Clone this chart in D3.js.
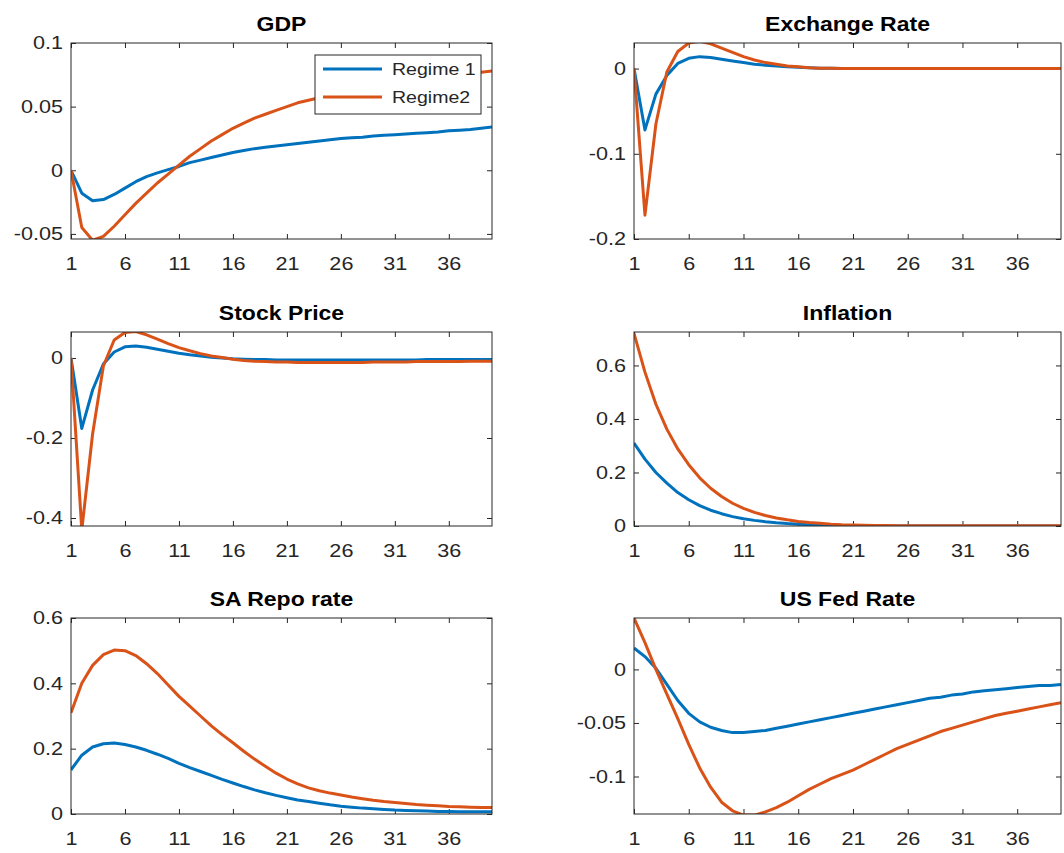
<!DOCTYPE html>
<html lang="en">
    <head>
        <meta charset="utf-8">
        <title>Impulse responses</title>
        <script type="text/javascript" src="https://cdn.jsdelivr.net/npm/d3@7"></script>
        <style>
            body { margin: 0; background: #fff; }
        </style>
    </head>
    <body>
        <script type="text/javascript">
            // Periods 1..40
            var periods = d3.range(1, 41);
            var xTicks = [1, 6, 11, 16, 21, 26, 31, 36];
            var seriesNames = ["Regime 1", "Regime2"];

            // GDP
            var gdpR1 = [0, -0.018, -0.024, -0.023, -0.019, -0.014, -0.009, -0.005, -0.002, 0.0005,
                         0.003, 0.006, 0.008, 0.010, 0.012, 0.014, 0.0155, 0.017, 0.018, 0.019,
                         0.020, 0.021, 0.022, 0.023, 0.024, 0.025, 0.0255, 0.026, 0.027, 0.0275,
                         0.028, 0.0285, 0.029, 0.0295, 0.030, 0.031, 0.0315, 0.032, 0.033, 0.034];
            var gdpR2 = [0, -0.045, -0.055, -0.052, -0.044, -0.035, -0.026, -0.018, -0.010, -0.003,
                         0.004, 0.011, 0.017, 0.023, 0.028, 0.033, 0.037, 0.041, 0.044, 0.047,
                         0.050, 0.053, 0.055, 0.057, 0.059, 0.061, 0.063, 0.065, 0.066, 0.068,
                         0.069, 0.070, 0.071, 0.072, 0.073, 0.074, 0.075, 0.076, 0.077, 0.078];

            // Exchange rate
            var fxR1 = [0, -0.072, -0.030, -0.008, 0.006, 0.012, 0.014, 0.013, 0.011, 0.009,
                        0.007, 0.005, 0.004, 0.003, 0.002, 0.0015, 0.001, 0.0005, 0.0003, 0.0002,
                        0.0001, 0, 0, 0, 0, 0, 0, 0, 0, 0,
                        0, 0, 0, 0, 0, 0, 0, 0, 0, 0];
            var fxR2 = [0, -0.172, -0.065, -0.004, 0.020, 0.030, 0.032, 0.029, 0.024, 0.019,
                        0.014, 0.010, 0.007, 0.005, 0.003, 0.002, 0.001, 0.0005, 0.0003, 0.0002,
                        0.0001, 0, 0, 0, 0, 0, 0, 0, 0, 0,
                        0, 0, 0, 0, 0, 0, 0, 0, 0, 0];

            // Stock price
            var stockR1 = [0, -0.176, -0.080, -0.015, 0.015, 0.028, 0.030, 0.027, 0.022, 0.017,
                           0.012, 0.008, 0.005, 0.002, 0.000, -0.002, -0.003, -0.004, -0.004, -0.005,
                           -0.005, -0.005, -0.005, -0.005, -0.005, -0.005, -0.005, -0.005, -0.005, -0.005,
                           -0.005, -0.005, -0.005, -0.004, -0.004, -0.004, -0.004, -0.004, -0.004, -0.004];
            var stockR2 = [0, -0.430, -0.190, -0.020, 0.045, 0.064, 0.066, 0.058, 0.047, 0.036,
                           0.026, 0.018, 0.011, 0.005, 0.001, -0.003, -0.006, -0.008, -0.009, -0.010,
                           -0.010, -0.011, -0.011, -0.011, -0.011, -0.011, -0.011, -0.011, -0.010, -0.010,
                           -0.010, -0.010, -0.009, -0.009, -0.009, -0.009, -0.009, -0.008, -0.008, -0.008];

            // Inflation
            var inflR1 = [0.310, 0.250, 0.200, 0.160, 0.125, 0.098, 0.076, 0.059, 0.046, 0.035,
                          0.027, 0.021, 0.016, 0.012, 0.009, 0.007, 0.005, 0.003, 0.002, 0.001,
                          0.0005, 0, 0, 0, 0, 0, 0, 0, 0, 0,
                          0, 0, 0, 0, 0, 0, 0, 0, 0, 0];
            var inflR2 = [0.720, 0.575, 0.455, 0.362, 0.288, 0.229, 0.180, 0.141, 0.110, 0.085,
                          0.066, 0.051, 0.039, 0.030, 0.023, 0.017, 0.013, 0.010, 0.007, 0.005,
                          0.004, 0.003, 0.002, 0.002, 0.001, 0.001, 0.001, 0.001, 0.001, 0.001,
                          0.001, 0.001, 0.001, 0.001, 0.001, 0.001, 0.001, 0.001, 0.001, 0.001];

            // SA repo rate
            var repoR1 = [0.135, 0.180, 0.205, 0.215, 0.217, 0.213, 0.205, 0.195, 0.183, 0.170,
                          0.155, 0.142, 0.130, 0.118, 0.106, 0.095, 0.084, 0.074, 0.065, 0.057,
                          0.050, 0.043, 0.038, 0.033, 0.028, 0.024, 0.021, 0.018, 0.016, 0.014,
                          0.012, 0.011, 0.010, 0.009, 0.008, 0.008, 0.007, 0.007, 0.007, 0.007];
            var repoR2 = [0.310, 0.400, 0.455, 0.488, 0.502, 0.500, 0.485, 0.460, 0.430, 0.395,
                          0.360, 0.330, 0.300, 0.270, 0.243, 0.218, 0.192, 0.168, 0.146, 0.125,
                          0.107, 0.092, 0.080, 0.071, 0.064, 0.058, 0.052, 0.047, 0.042, 0.038,
                          0.035, 0.032, 0.029, 0.027, 0.025, 0.023, 0.022, 0.021, 0.020, 0.020];

            // US Fed rate
            var fedR1 = [0.020, 0.012, 0.001, -0.014, -0.029, -0.041, -0.049, -0.054, -0.057, -0.059,
                         -0.059, -0.058, -0.057, -0.055, -0.053, -0.051, -0.049, -0.047, -0.045, -0.043,
                         -0.041, -0.039, -0.037, -0.035, -0.033, -0.031, -0.029, -0.027, -0.026, -0.024,
                         -0.023, -0.021, -0.020, -0.019, -0.018, -0.017, -0.016, -0.015, -0.015, -0.014];
            var fedR2 = [0.048, 0.025, 0.000, -0.023, -0.046, -0.070, -0.092, -0.110, -0.124, -0.132,
                         -0.136, -0.136, -0.133, -0.129, -0.124, -0.118, -0.112, -0.107, -0.102, -0.098,
                         -0.094, -0.089, -0.084, -0.079, -0.074, -0.070, -0.066, -0.062, -0.058, -0.055,
                         -0.052, -0.049, -0.046, -0.043, -0.041, -0.039, -0.037, -0.035, -0.033, -0.031];

            // Panels
            var panels = [
                { title: "GDP", r1: gdpR1, r2: gdpR2, y: [-0.054, 0.1], ticks: [-0.05, 0, 0.05, 0.1], col: 0, row: 0, legend: true },
                { title: "Exchange Rate", r1: fxR1, r2: fxR2, y: [-0.2, 0.03], ticks: [-0.2, -0.1, 0], col: 1, row: 0 },
                { title: "Stock Price", r1: stockR1, r2: stockR2, y: [-0.42, 0.065], ticks: [-0.4, -0.2, 0], col: 0, row: 1 },
                { title: "Inflation", r1: inflR1, r2: inflR2, y: [0, 0.725], ticks: [0, 0.2, 0.4, 0.6], col: 1, row: 1 },
                { title: "SA Repo rate", r1: repoR1, r2: repoR2, y: [0, 0.6], ticks: [0, 0.2, 0.4, 0.6], col: 0, row: 2 },
                { title: "US Fed Rate", r1: fedR1, r2: fedR2, y: [-0.135, 0.048], ticks: [-0.1, -0.05, 0], col: 1, row: 2 }
            ];

            var w = 1064;
            var h = 853;
            var colX = [[71, 492], [634, 1061]];
            var rowY = [[43, 239], [332, 526], [618, 814]];
            var colors = ["#0072BD", "#D95319"];
            var ink = "#262626";
            var stretch = 1.2;

            var fmt = function(v) { return String(+v.toFixed(3)); };

            var svg = d3.select("body")
                        .append("svg")
                        .attr("width", w)
                        .attr("height", h)
                        .style("font-family", "'Liberation Sans', Arial, sans-serif");

            panels.forEach(function(p, i) {
                var x0 = colX[p.col][0], x1 = colX[p.col][1];
                var y0 = rowY[p.row][0], y1 = rowY[p.row][1];

                var xScale = d3.scaleLinear().domain([1, 40]).range([x0, x1]);
                var yScale = d3.scaleLinear().domain(p.y).range([y1, y0]);

                var g = svg.append("g");

                // clip for lines
                g.append("clipPath").attr("id", "clip" + i)
                    .append("rect")
                    .attr("x", x0).attr("y", y0)
                    .attr("width", x1 - x0).attr("height", y1 - y0);

                // axes with inward ticks
                var xb = g.append("g")
                    .attr("transform", "translate(0," + y1 + ")")
                    .call(d3.axisBottom(xScale).tickValues(xTicks).tickSizeInner(-5).tickSizeOuter(0).tickPadding(18));
                var xt = g.append("g")
                    .attr("transform", "translate(0," + y0 + ")")
                    .call(d3.axisTop(xScale).tickValues(xTicks).tickSizeInner(-5).tickSizeOuter(0).tickFormat(""));
                var yl = g.append("g")
                    .attr("transform", "translate(" + x0 + ",0)")
                    .call(d3.axisLeft(yScale).tickValues(p.ticks).tickSizeInner(-5).tickSizeOuter(0).tickFormat(fmt));
                var yr = g.append("g")
                    .attr("transform", "translate(" + x1 + ",0)")
                    .call(d3.axisRight(yScale).tickValues(p.ticks).tickSizeInner(-5).tickSizeOuter(0).tickFormat(""));

                [xb, xt, yl, yr].forEach(function(a) {
                    a.select(".domain").remove();
                    a.selectAll("line").attr("stroke", ink);
                });

                xb.selectAll("text")
                    .attr("fill", ink)
                    .style("font-size", "18px")
                    .attr("transform", "scale(" + stretch + ",1)");
                yl.selectAll("text")
                    .attr("fill", ink)
                    .style("font-size", "18px")
                    .attr("x", null)
                    .attr("transform", "translate(-8,0) scale(" + stretch + ",1)");

                // lines
                var line = d3.line()
                    .x(function(d, k) { return xScale(periods[k]); })
                    .y(function(d) { return yScale(d); });

                [p.r1, p.r2].forEach(function(s, k) {
                    g.append("path")
                        .datum(s)
                        .attr("clip-path", "url(#clip" + i + ")")
                        .attr("fill", "none")
                        .attr("stroke", colors[k])
                        .attr("stroke-width", 3)
                        .attr("stroke-linejoin", "round")
                        .attr("d", line);
                });

                // box
                g.append("rect")
                    .attr("x", x0).attr("y", y0)
                    .attr("width", x1 - x0).attr("height", y1 - y0)
                    .attr("fill", "none")
                    .attr("stroke", ink)
                    .attr("stroke-width", 1);

                // title
                g.append("text")
                    .attr("transform", "translate(" + ((x0 + x1) / 2) + "," + (y0 - 12) + ") scale(1.15,1)")
                    .attr("text-anchor", "middle")
                    .attr("fill", "#000")
                    .style("font-size", "20px")
                    .style("font-weight", "bold")
                    .text(p.title);

                // legend
                if (p.legend) {
                    var lg = g.append("g").attr("transform", "translate(315,55)");
                    lg.append("rect")
                        .attr("width", 166).attr("height", 59)
                        .attr("fill", "#fff")
                        .attr("stroke", ink);
                    seriesNames.forEach(function(name, k) {
                        lg.append("line")
                            .attr("x1", 8).attr("x2", 67)
                            .attr("y1", 14 + k * 28).attr("y2", 14 + k * 28)
                            .attr("stroke", colors[k])
                            .attr("stroke-width", 3);
                        lg.append("text")
                            .attr("transform", "translate(77," + (14 + k * 28) + ") scale(1.15,1)")
                            .attr("dy", "0.35em")
                            .attr("fill", ink)
                            .style("font-size", "17px")
                            .text(name);
                    });
                }
            });
        </script>
    </body>
</html>
